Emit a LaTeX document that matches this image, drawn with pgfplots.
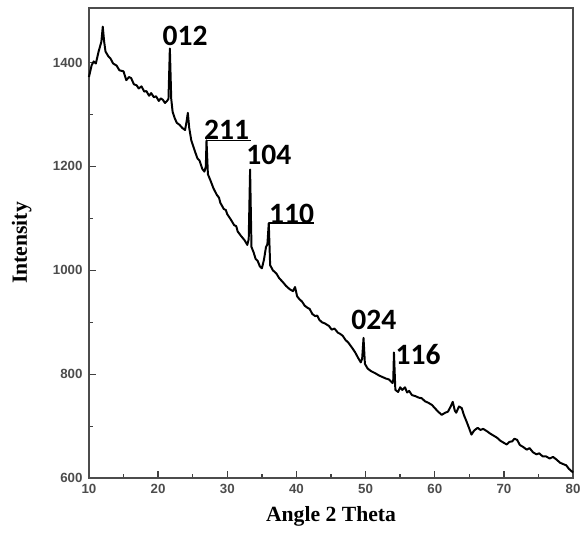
\documentclass[border=0pt]{standalone}
\usepackage{pgfplots}
\pgfplotsset{compat=1.18}
\usepackage{fontspec}
\setmainfont{Liberation Serif}
\newfontfamily\ticksfont{Liberation Sans}
\newfontfamily\peakfont{Carlito}
\begin{document}
\begin{tikzpicture}
\begin{axis}[width=490bp,height=476bp,scale only axis,
  xmin=10,xmax=80,ymin=600,ymax=1505,
  xtick={10,20,...,80},minor xtick={15,25,...,75},
  ytick={600,800,...,1400},minor ytick={700,900,...,1300},
  xtick pos=left,ytick pos=left,tick align=inside,
  major tick length=7bp,minor tick length=4bp,
  every tick/.style={black!75,line width=1.4bp},
  axis line style={black!70,line width=2bp},
  ticklabel style={font=\ticksfont\bfseries\fontsize{13.5}{15}\selectfont,text=black!70},
  xticklabel style={yshift=-3bp},
  yticklabel style={xshift=-3bp},
  /pgf/number format/assume math mode=true,
  /pgf/number format/set thousands separator={},
  xlabel={\bfseries Angle 2 Theta},ylabel={\bfseries Intensity},
  xlabel style={at={(axis description cs:0.5,-0.082)},anchor=center,font=\fontsize{22}{24}\selectfont},
  ylabel style={at={(axis description cs:-0.139,0.5)},anchor=center,rotate=0,font=\fontsize{22}{24}\selectfont},
  clip=false]
% digitised trace, 2theta vs counts
\addplot[black,line width=2bp,line join=round] coordinates {
(10.0,1372) (10.4,1395) (10.7,1402) (11.0,1398) (11.4,1421) (11.8,1440) (12.0,1469) (12.2,1440)
(12.4,1421) (12.8,1412) (13.1,1408) (13.5,1398) (14.0,1394) (14.4,1385) (15.0,1383) (15.4,1366)
(15.8,1372) (16.1,1370) (16.5,1358) (16.9,1356) (17.2,1350) (17.6,1354) (18.0,1344) (18.3,1345)
(18.7,1336) (19.0,1341) (19.4,1333) (19.7,1335) (20.1,1326) (20.4,1331) (20.7,1328) (21.0,1322)
(21.3,1326) (21.5,1330) (21.7,1427) (21.9,1330) (22.1,1305) (22.4,1293) (22.7,1284) (23.1,1280)
(23.5,1274) (23.9,1270) (24.1,1285) (24.3,1303) (24.5,1274) (24.8,1250) (25.3,1230) (25.7,1215)
(26.0,1211) (26.4,1195) (26.7,1190) (26.9,1200) (27.0,1250) (27.2,1185) (27.6,1172) (28.0,1158)
(28.5,1145) (28.8,1140) (29.0,1130) (29.5,1118) (29.8,1116) (30.0,1108) (30.5,1098) (31.0,1087)
(31.3,1085) (31.5,1075) (32.0,1066) (32.5,1058) (32.9,1049) (33.1,1060) (33.3,1194) (33.5,1045)
(33.8,1035) (34.1,1022) (34.4,1018) (34.7,1008) (35.0,1004) (35.3,1020) (35.6,1045) (35.8,1050)
(36.0,1091) (36.2,1010) (36.6,1000)
(37.1,994) (37.5,985) (38.0,978) (38.5,970) (39.0,964) (39.5,960) (39.8,968) (40.1,950)
(40.4,945) (40.8,940) (41.2,932) (41.6,928) (41.9,926) (42.3,916) (42.7,912) (43.0,913)
(43.3,905) (43.7,900) (44.1,898) (44.7,893) (45.1,886) (45.5,888) (46.0,880) (46.3,878)
(46.7,874) (47.1,866) (47.5,861) (48.1,850) (48.5,842) (48.9,832) (49.3,823) (49.5,830)
(49.7,870) (49.9,820) (50.3,811) (50.8,806) (51.4,802) (51.9,798) (52.4,795) (52.9,792)
(53.4,790) (53.9,783) (54.0,790) (54.1,842) (54.3,770) (54.7,766) (55.0,775) (55.3,770)
(55.7,775) (56.0,765) (56.3,768) (56.7,760) (57.2,758) (57.7,755) (58.1,754) (58.6,748)
(59.1,745) (59.6,741) (60.0,735) (60.5,728) (61.0,722) (61.5,726) (61.9,728) (62.3,738)
(62.6,747) (62.9,730) (63.1,726) (63.5,738) (63.9,735) (64.2,722) (64.6,709) (65.0,695)
(65.3,684) (65.7,692) (66.2,697) (66.6,693) (67.0,695) (67.6,690) (68.0,686) (68.5,682)
(69.0,678) (69.5,672) (70.0,668) (70.4,665) (70.8,670) (71.2,671) (71.5,676) (71.9,674)
(72.3,664) (72.8,660) (73.3,655) (73.7,658) (74.2,650) (74.7,646) (75.1,648) (75.6,642)
(76.1,642) (76.6,638) (77.1,641) (77.6,636) (78.1,630) (78.6,627) (79.0,625) (79.4,618)
(80.0,611)
};
% peak labels
\begin{scope}[every node/.style={font=\peakfont\bfseries\fontsize{30}{31}\selectfont,inner sep=0pt}]
\node at (axis cs:23.9,1452) {012};
\node at (axis cs:29.9,1271) {211};
\node at (axis cs:36.0,1222) {104};
\node at (axis cs:39.3,1108) {110};
\node at (axis cs:51.2,905) {024};
\node at (axis cs:57.6,838) {116};
\end{scope}
\draw[black,line width=1.4bp] (axis cs:27.0,1250) -- (axis cs:33.4,1250);
\draw[black,line width=1.4bp] (axis cs:36.0,1091) -- (axis cs:42.6,1091);
\coordinate (bl) at (rel axis cs:0,0);
\coordinate (tr) at (rel axis cs:1,1);
\end{axis}
\pgfresetboundingbox
\path ([xshift=-90bp,yshift=-61bp]bl) rectangle ([xshift=9bp,yshift=8bp]tr);
\end{tikzpicture}
\end{document}
